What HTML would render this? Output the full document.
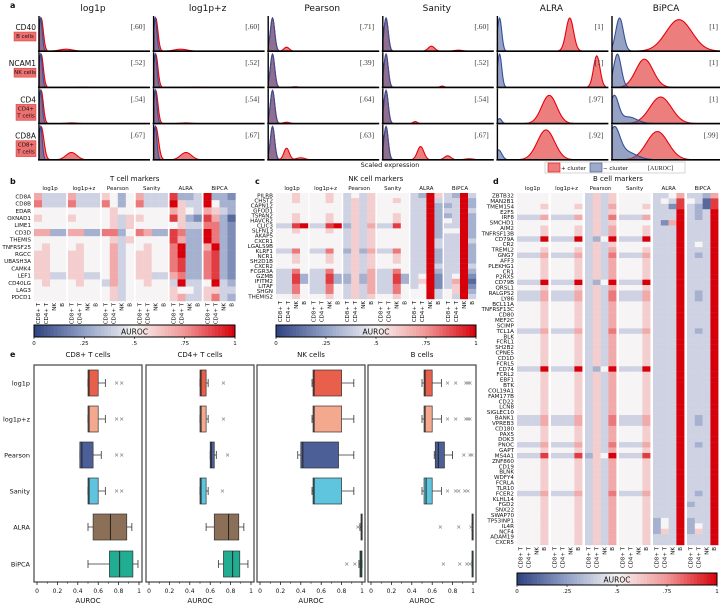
<!DOCTYPE html>
<html><head><meta charset="utf-8"><style>
html,body{margin:0;padding:0;background:#fff;}
svg{display:block;font-family:"DejaVu Sans","Liberation Sans",sans-serif;}
</style></head><body>
<svg id="fig" width="720" height="606" viewBox="0 0 720 606" xmlns="http://www.w3.org/2000/svg"></svg>
<script>
// ---------- Panel a data ----------
const aMethods = ["log1p","log1p+z","Pearson","Sanity","ALRA","BiPCA"];
const aGenes = ["CD40","NCAM1","CD4","CD8A"];
const aCells = [["B cells"],["NK cells"],["CD4+","T cells"],["CD8+","T cells"]];
const aAuroc = [[".60",".60",".71",".60","1","1"],[".52",".52",".39",".52","1","1"],[".54",".54",".64",".54",".97","1"],[".67",".67",".63",".67",".92",".99"]];
// mixture components [center, height, width] for + cluster (red) and - cluster (blue)
const aRed = [
 [[[.02,1,.02],[.25,.06,.06]],[[.02,1,.02],[.25,.06,.06]],[[.04,1,.02],[.17,.12,.025]],[[.03,1,.02],[.45,.15,.03],[.7,.03,.04]],[[.67,1,.035]],[[.62,.95,.12]]],
 [[[.02,1,.02],[.4,.01,.05]],[[.02,1,.02],[.4,.01,.05]],[[.04,1,.02],[.25,.02,.03]],[[.03,1,.02],[.55,.04,.02]],[[.92,.95,.03]],[[.3,.85,.08]]],
 [[[.02,1,.02],[.3,.02,.05]],[[.02,1,.02],[.3,.02,.05]],[[.04,1,.02],[.17,.04,.03]],[[.03,1,.02],[.3,.06,.02]],[[.48,.85,.07]],[[.45,.8,.1]]],
 [[[.02,1,.025],[.3,.22,.05]],[[.02,1,.025],[.3,.22,.05]],[[.04,1,.02],[.17,.35,.025],[.3,.06,.04]],[[.03,1,.02],[.35,.4,.03],[.6,.12,.03],[.8,.03,.04]],[[.45,.9,.08]],[[.42,.85,.1]]]
];
const aBlue = [
 [[[.015,1,.015]],[[.015,1,.015]],[[.04,1,.02]],[[.03,1,.02]],[[.02,1,.02]],[[.07,1,.035]]],
 [[[.015,1,.015]],[[.015,1,.015]],[[.04,1,.02]],[[.03,1,.02]],[[.02,1,.02]],[[.05,1,.035]]],
 [[[.015,1,.015]],[[.015,1,.015]],[[.04,1,.02]],[[.03,1,.02]],[[.02,.15,.02]],[[.02,.8,.04],[.15,.2,.08]]],
 [[[.015,1,.015]],[[.015,1,.015]],[[.04,1,.02]],[[.03,1,.02]],[[.01,.3,.03]],[[.02,.85,.05],[.12,.25,.1]]]
];
// ---------- Heatmap data (AUROC codes: digit/10, A = 1.0) ----------
const hmGroups = ["log1p","log1p+z","Pearson","Sanity","ALRA","BiPCA"];
const hmCols = ["CD8+ T","CD4+ T","NK","B"];
const bGenes = ["CD8A","CD8B","EDAR","OXNAD1","LIME1","CD3D","THEMIS","TNFRSF25","RGCC","UBASH3A","CAMK4","LEF1","CD40LG","LAG3","PDCD1"];
const bVals = [
 ["7444","7444","6535","7444","9334","A332"],["8444","8444","8535","8444","A644","A533"],["5555","5555","5655","5555","7654","7643"],
 ["6555","6555","5646","6555","9632","9731"],["5555","5555","5646","5555","5644","8832"],["7733","7733","8835","8733","9833","A832"],
 ["5555","5555","5646","5555","9733","A832"],["5655","5655","5745","5655","8A33","7A32"],["6655","6655","5745","6655","8A33","8932"],
 ["6655","6655","5745","6655","8933","8932"],["6655","6655","5745","6655","8933","8932"],["6644","6644","5745","6644","7833","8932"],
 ["5655","5655","4745","5655","4A44","5A43"],["5555","5555","5645","5555","6554","6644"],["5555","5555","5645","5555","6744","6843"]
];
const cGenes = ["PILRB","CHST2","CAPN12","GFOD1","TSPAN2","HAVCR2","CLIC3","SLFN13","AKAP5","CXCR1","LGALS9B","KLRF1","NCR1","SH2D1B","CXCR2","FCGR3A","GZMB","IFITM2","LITAF","SHGN","THEMIS2"];
const cVals = [
 ["5565","5565","4546","5555","43A6","43A4"],["5565","5565","4646","5565","44A4","44A3"],["5555","5555","4646","5555","44A3","34A3"],
 ["5555","5555","4646","5555","44A3","44A4"],["5565","5565","4646","5565","44A3","34A3"],["5565","5565","4646","5565","44A3","54A3"],
 ["449A","449A","3647","4495","44A3","44A3"],["5565","5565","4646","5555","44A3","55A3"],["5555","5555","4646","5555","44A3","44A3"],
 ["5555","5555","4646","5555","44A4","44A4"],["5555","5555","4646","5555","44A4","44A3"],["4485","4485","3637","4485","44A3","44A3"],
 ["5565","5565","4646","5565","44A3","44A3"],["5565","5565","4646","5565","44A3","44A3"],["5555","5555","4646","5555","44A4","44A4"],
 ["4485","4485","4647","4485","44A3","44A3"],["4493","4493","3637","4493","45A2","45A2"],["4493","4493","3637","4493","46A2","47A1"],
 ["4485","4485","4647","4485","45A2","46A2"],["4485","4485","4647","4485","55A4","56A3"],["5565","5565","4646","5565","55A4","54A4"]
];
const dGenes = ["ZBTB32","MAN2B1","TMEM154","E2F5","IRF8","SMCHD1","AIM2","TNFRSF13B","CD79A","CR2","TREML2","GNG7","AFF3","PLEKHG1","CR1","P2RX5","CD79B","QRSL1","RALGPS2","LY86","BCL11A","TNFRSF13C","CD80","MEF2C","SCIMP","TCL1A","BLK","FCRL1","SH2B2","CPNE5","CD1D","FCRL5","CD74","FCRL2","EBF1","BTK","COL19A1","FAM177B","CD22","LCN8","SIGLEC10","BANK1","VPREB3","CD180","PAX5","DOK3","PNOC","GAPT","MS4A1","ZNF860","CD19","BLNK","WDFY4","FCRLA","TLR10","FCER2","KLHL14","FGD2","SNX22","SWAP70","TP53INP1","IL4R","NCF4","ADAM19","CXCR5"];
const G = ["5556","5556","4647","5556","444A","444A"];
const M = ["4447","4447","4648","4447","444A","434A"];
const S = ["444A","444A","435A","444A","444A","444A"];
const dVals = [
 ["5555","5555","4646","5555","4457","4437"],["5555","5555","4646","5555","4549","5419"],["5556","5556","4647","5556","4429","4319"],
 ["5555","5555","4646","5555","444A","434A"],M,["5555","5555","4646","5555","427A","444A"],G,G,S,["5555","5555","4646","5555","444A","454A"],
 G,M,G,G,G,G,S,G,M,M,G,G,G,G,G,M,G,G,G,G,G,G,S,G,G,G,G,G,G,G,G,M,M,G,G,G,M,G,
 ["4449","4449","365A","4449","444A","444A"],G,G,G,G,G,G,M,G,["5556","5556","4647","5556","444A","344A"],G,G,
 ["5556","5556","4647","5556","354A","344A"],["5556","5556","4647","5556","354A","354A"],["5556","5556","4647","5556","364A","364A"],["5556","5556","4647","5556","444A","444A"],G
];
// ---------- Boxplot data ----------
const eCells = ["CD8+ T cells","CD4+ T cells","NK cells","B cells"];
const eMethods = ["log1p","log1p+z","Pearson","Sanity","ALRA","BiPCA"];
const eColors = ["#e8604c","#f4a88e","#4c5f97","#5fc4dd","#8c6f57","#20ad92"];
// [whiskerLo, q1, median, q3, whiskerHi]
const eStats = [
 [[.5,.5,.51,.6,.67],[.5,.5,.51,.6,.67],[.42,.42,.44,.55,.63],[.5,.5,.51,.6,.67],[.5,.55,.72,.88,.93],[.5,.71,.81,.94,.99]],
 [[.5,.5,.51,.56,.58],[.5,.5,.51,.56,.58],[.6,.6,.61,.64,.66],[.5,.5,.51,.56,.58],[.56,.64,.78,.88,.93],[.68,.73,.82,.89,.97]],
 [[.51,.52,.53,.8,.92],[.51,.52,.53,.8,.92],[.37,.4,.42,.77,.92],[.51,.52,.53,.8,.92],[.98,.99,1,1,1],[.97,.98,.99,1,1]],
 [[.5,.52,.53,.6,.69],[.5,.52,.53,.6,.69],[.62,.63,.66,.72,.8],[.5,.52,.54,.6,.69],[.99,.99,1,1,1],[.99,.99,1,1,1]]
];
const eOut = [
 [[.78,.83],[.78,.83],[.78,.83],[.78,.83],[],[]],
 [[.73],[.73],[.77],[.72],[],[]],
 [[],[],[],[],[.96],[.85,.93]],
 [[.75,.83,.93,.95,.97],[.75,.83,.93,.95,.97],[.91,.97,.99],[.75,.83,.86,.92,.95],[.68,.86,.98],[.71,.87,.94,.97]]
];
const eTicks = ["0","0.2","0.4","0.6","0.8","1"];
const cbTicks = ["0",".25",".5",".75","1"];

// ---------- helpers ----------
const NS="http://www.w3.org/2000/svg";
const svg=document.getElementById('fig');
function el(tag,attrs,parent){const e=document.createElementNS(NS,tag);for(const k in attrs)e.setAttribute(k,attrs[k]);(parent||svg).appendChild(e);return e;}
function txt(s,x,y,size,anchor,parent,extra){const t=el('text',Object.assign({x:x,y:y,'font-size':size,'text-anchor':anchor||'start',fill:'#111'},extra||{}),parent);t.textContent=s;return t;}
function code(c){return c==='A'?1:parseInt(c,10)/10;}
const stops=[[0,[46,66,128]],[.25,[145,160,198]],[.5,[246,244,244]],[.75,[240,150,150]],[1,[215,0,10]]];
function cmap(v){for(let i=0;i<stops.length-1;i++){const a=stops[i],b=stops[i+1];if(v<=b[0]){const t=(v-a[0])/(b[0]-a[0]);const c=a[1].map((x,j)=>Math.round(x+(b[1][j]-x)*t));return 'rgb('+c.join(',')+')';}}return 'rgb(215,0,10)';}

// ---------- panel letters ----------
[["a",10,8],["b",10,184],["c",255,184],["d",493,184],["e",10,357]].forEach(p=>{
 const t=txt(p[0],p[1],p[2],8,'start',svg,{'font-weight':'bold'});
 
 
});

// ---------- Panel a ----------
const aG=el('g',{});


const aX0=39,aStep=114.6,aW=108,aTop=15,aRowH=36.2;
function dens(comps,t){let s=0;comps.forEach(c=>{s+=c[1]*Math.exp(-0.5*Math.pow((t-c[0])/c[2],2));});return Math.min(s,1);}
function densPath(comps,x0,base,h){let d='M'+x0+','+base;for(let i=0;i<=200;i++){const t=i/200;d+=' L'+(x0+t*aW).toFixed(2)+','+(base-dens(comps,t)*h).toFixed(2);}d+=' L'+(x0+aW)+','+base+' Z';return d;}
aMethods.forEach((m,c)=>{
 const x0=aX0+c*aStep;
 const t=txt(m,x0+aW/2,11,9,'middle',aG);
 
 
 aGenes.forEach((g,r)=>{
  const base=aTop+(r+1)*aRowH, h=aRowH-3;
  const red=el('path',{d:densPath(aRed[r][c],x0,base,h),fill:'rgba(232,90,90,0.78)',stroke:'#e8000b','stroke-width':1.1},aG);
  
  
  const blue=el('path',{d:densPath(aBlue[r][c],x0,base,h),fill:'rgba(80,100,155,0.6)',stroke:'#34509a','stroke-width':1.1},aG);
  
  
  el('line',{x1:x0,y1:base-aRowH+1,x2:x0,y2:base,stroke:'#000','stroke-width':1.4},aG);
  el('line',{x1:x0-1,y1:base,x2:x0+aW+3,y2:base,stroke:'#000','stroke-width':1.6},aG);
  const au=txt('['+aAuroc[r][c]+']',x0+aW-2,base-aRowH+14,7.5,'end',aG,{fill:'#333','font-family':'Liberation Serif, serif'});
  
  
 });
});
aGenes.forEach((g,r)=>{
 const yT=aTop+r*aRowH+15;
 const gl=txt(g,36,yT,7.5,'end',aG);
 
 
 const lines=aCells[r];
 const bh=lines.length*7+2;
 const bw=lines.length>1?20:22;
 const rb=el('rect',{x:36-bw,y:yT+2,width:bw,height:bh,fill:'#ee7070',stroke:'#d33','stroke-width':0.5},aG);
 
 
 lines.forEach((l,i)=>txt(l,36-bw/2,yT+8+i*7,5.5,'middle',aG));
});
const sx=txt('Scaled expression',390,167,6.5,'middle',aG);


const lg=el('g',{},aG);


el('rect',{x:545,y:162,width:140,height:11,fill:'#fff',stroke:'#bbb','stroke-width':0.6},lg);
el('rect',{x:548,y:163,width:12,height:9,fill:'rgba(232,90,90,0.78)',stroke:'#e00','stroke-width':0.6},lg);
txt('+ cluster',561,170,5.5,'start',lg);
el('rect',{x:590,y:163,width:12,height:9,fill:'rgba(80,100,155,0.55)',stroke:'#34509a','stroke-width':0.6},lg);
txt('− cluster',603,170,5.5,'start',lg);
txt('[AUROC]',648,170,6,'start',lg,{'font-family':'Liberation Serif, serif'});

// ---------- Heatmaps ----------
function heat(name,title,genes,vals,x0,top,bottom,labelX,gstep,cw,fs){
 const g=el('g',{});
 
 
 const rh=(bottom-top)/genes.length;
 txt(title,x0+gstep*3-1,181,7,'middle',g);
 hmGroups.forEach((m,gi)=>{
  const gx=x0+gi*gstep;
  txt(m,gx+cw*2,190,5.5,'middle',g);
  hmCols.forEach((c,ci)=>{
   const lx=gx+ci*cw+cw/2+1.8;
   txt(c,lx,bottom+2,5.5,'end',g,{transform:'rotate(-90 '+lx+' '+(bottom+2)+')'});
  });
 });
 genes.forEach((gn,r)=>{
  const y=top+r*rh;
  txt(gn,labelX,y+rh/2+1.8,Math.min(5.6,rh+0.6),'end',g);
  vals[r].forEach((grp,gi)=>{
   for(let ci=0;ci<4;ci++){
    const cell=el('rect',{x:(x0+gi*gstep+ci*cw).toFixed(2),y:y.toFixed(2),width:cw+0.2,height:rh+0.2,fill:cmap(code(grp[ci]))},g);
    
    
   }
  });
 });
 return g;
}
function colorbar(name,x0,x1,y){
 const g=el('g',{});
 
 
 const n=60,w=(x1-x0)/n;
 for(let i=0;i<n;i++)el('rect',{x:x0+i*w,y:y,width:w+0.3,height:12,fill:cmap((i+0.5)/n)},g);
 el('rect',{x:x0,y:y,width:x1-x0,height:12,fill:'none',stroke:'#000','stroke-width':1},g);
 txt('AUROC',(x0+x1)/2,y+9.5,7.5,'middle',g);
 cbTicks.forEach((t,i)=>{const x=x0+i*(x1-x0)/4;el('line',{x1:x,y1:y+12,x2:x,y2:y+14,stroke:'#000','stroke-width':0.6},g);txt(t,x,y+20,5.5,'middle',g);});
}
heat('t-cell-heatmap','T cell markers',bGenes,bVals,34,193,301,31,33.9,8,5.6);
colorbar('t-cell-colorbar',34,235,325);
heat('nk-cell-heatmap','NK cell markers',cGenes,cVals,276,193,299,273,33.6,8,5.2);
colorbar('nk-cell-colorbar',276,476,325);
heat('b-cell-heatmap','B cell markers',dGenes,dVals,517,193,545,514,34,7.8,5);
colorbar('b-cell-colorbar',517,717,573);

// ---------- Panel e boxplots ----------
const ePanels=[[34,142],[146,254],[257,365],[368,476]];
const eTop=365,eBot=582;
const eRowY=[383,419,455,491,527,564];
function xs(L,R,v){return L+3+v*(R-L-6);}
eCells.forEach((cell,p)=>{
 const [L,R]=ePanels[p];
 const g=el('g',{});
 
 
 txt(cell,(L+R)/2,357,7,'middle',g);
 el('rect',{x:L,y:eTop,width:R-L,height:eBot-eTop,fill:'none',stroke:'#444','stroke-width':1.2},g);
 eTicks.forEach((t,i)=>{const v=i/5;const x=xs(L,R,v);el('line',{x1:x,y1:eBot,x2:x,y2:eBot+3,stroke:'#000','stroke-width':0.7},g);if(i<5)el('line',{x1:xs(L,R,v+0.1),y1:eBot,x2:xs(L,R,v+0.1),y2:eBot+1.8,stroke:'#000','stroke-width':0.5},g);txt(t,x,eBot+11,6,'middle',g);});
 txt('AUROC',(L+R)/2,eBot+21,7,'middle',g);
 eMethods.forEach((m,k)=>{
  const s=eStats[p][k],cy=eRowY[k],bh=26;
  el('line',{x1:xs(L,R,s[0]),y1:cy,x2:xs(L,R,s[4]),y2:cy,stroke:'#333','stroke-width':0.8},g);
  [s[0],s[4]].forEach(v=>el('line',{x1:xs(L,R,v),y1:cy-4,x2:xs(L,R,v),y2:cy+4,stroke:'#333','stroke-width':0.8},g));
  const bx=el('rect',{x:xs(L,R,s[1]),y:cy-bh/2,width:Math.max(1.2,xs(L,R,s[3])-xs(L,R,s[1])),height:bh,fill:eColors[k],stroke:'#333','stroke-width':0.7},g);
  
  
  el('line',{x1:xs(L,R,s[2]),y1:cy-bh/2,x2:xs(L,R,s[2]),y2:cy+bh/2,stroke:'#222','stroke-width':1},g);
  eOut[p][k].forEach(v=>{const x=xs(L,R,v);el('path',{d:'M'+(x-1.5)+','+(cy-1.5)+' L'+(x+1.5)+','+(cy+1.5)+' M'+(x-1.5)+','+(cy+1.5)+' L'+(x+1.5)+','+(cy-1.5),stroke:'#888','stroke-width':0.6},g);});
 });
});
eMethods.forEach((m,k)=>{
 const t=txt(m,30,eRowY[k]+2.5,6.5,'end');
 
 
});
</script>
</body></html>
